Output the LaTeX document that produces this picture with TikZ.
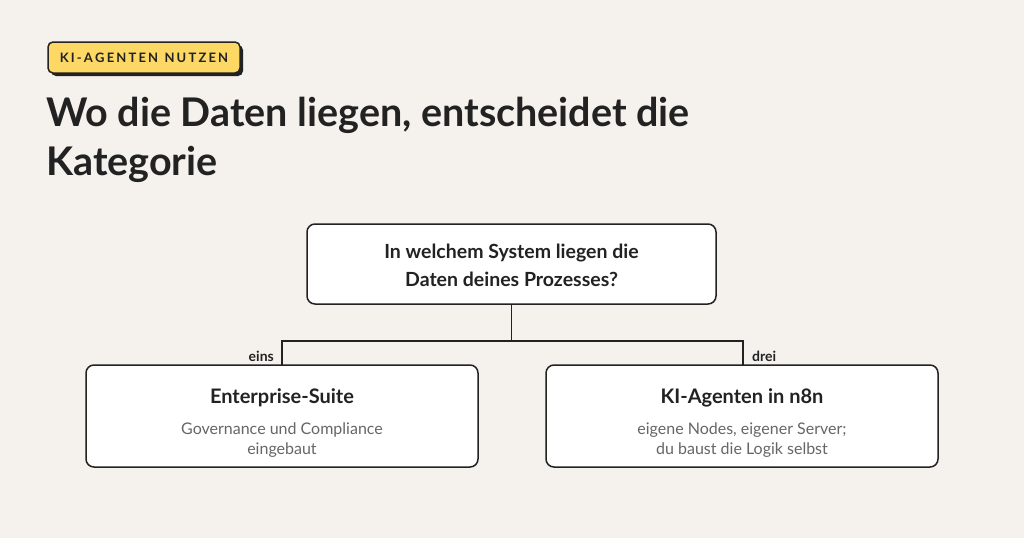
\documentclass[tikz,border=0pt]{standalone}
\usepackage{fontspec}
\setmainfont{Lato}
\usetikzlibrary{positioning}
\definecolor{bg}{HTML}{F5F2ED}
\definecolor{ink}{HTML}{222222}
\definecolor{tagyellow}{HTML}{FDD865}
\definecolor{subgray}{HTML}{666666}
\tikzset{
  box/.style={draw=ink, line width=1.5pt, rounded corners=8pt, fill=white, align=center},
  link/.style={draw=ink, line width=1.4pt},
  branch/.style={font=\fontsize{14}{16}\selectfont\bfseries, text=ink, inner sep=2pt}
}
\begin{document}
\begin{tikzpicture}[x=1pt, y=-1pt]
	\fill[bg] (0, 0) rectangle (1024, 538);
	\useasboundingbox (0, 0) rectangle (1024, 538);

	% tag and title
	\fill[ink, rounded corners=5pt]	(51, 45) rectangle (243, 76);
	\draw[ink, fill=tagyellow, line width=1.5pt, rounded corners=5pt]	(48, 42) rectangle (240, 73);
	\node[font=\fontsize{13}{15}\selectfont\bfseries, text=ink] (tag) at (144, 57.5) {K\,I\,-\,A\,G\,E\,N\,T\,E\,N\ \ N\,U\,T\,Z\,E\,N};
	\node[anchor=north west, align=left, font=\fontsize{39.5}{49}\selectfont\bfseries, text=ink, inner sep=0pt] (title) at (46, 97)
		{Wo die Daten liegen, entscheidet die\\Kategorie};

	% boxes
	\draw[box] (307, 224) rectangle (716, 304);
	\node[font=\fontsize{19.5}{28}\selectfont\bfseries, text=ink, align=center] (frage) at (511.5, 265) {In welchem System liegen die\\Daten deines Prozesses?};

	\draw[box] (86, 365) rectangle (478, 467);
	\node[font=\fontsize{20}{22}\selectfont\bfseries, text=ink] (suite) at (282, 398) {Enterprise-Suite};
	\node[font=\fontsize{16}{20}\selectfont, text=subgray, align=center] (suitetxt) at (282, 440) {Governance und Compliance\\eingebaut};

	\draw[box] (546, 365) rectangle (938, 467);
	\node[font=\fontsize{20}{22}\selectfont\bfseries, text=ink] (nodes) at (742, 398) {KI-Agenten in n8n};
	\node[font=\fontsize{16}{20}\selectfont, text=subgray, align=center] (nodestxt) at (742, 440) {eigene Nodes, eigener Server;\\du baust die Logik selbst};

	% connectors
	\coordinate (top)   at (511.5, 304);
	\coordinate (left)  at (282, 365);
	\coordinate (right) at (743, 365);
	\draw[link] (top) -- ++(0, 37) -| (left);
	\draw[link] (top) -- ++(0, 37) -| (right);

	\node[branch, anchor=south east] (eins) at (276, 364) {eins};
	\node[branch, anchor=south west] (drei) at (750, 364) {drei};
\end{tikzpicture}
\end{document}
